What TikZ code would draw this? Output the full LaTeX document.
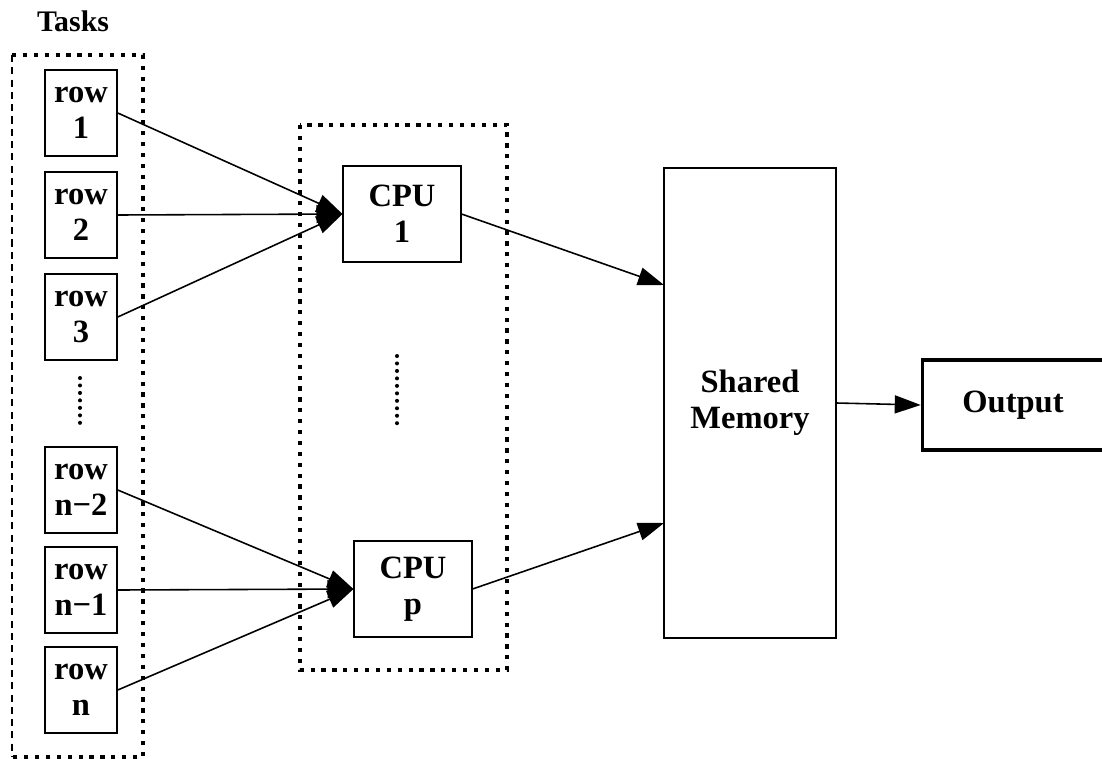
\documentclass[tikz,border=0pt]{standalone}
\usepackage{fontspec}
\setmainfont{Liberation Serif}
\usetikzlibrary{arrows.meta}
\newcommand{\rowW}{1.44cm}
\newcommand{\rowH}{1.72cm}
\newcommand{\cpuW}{2.35cm}
\newcommand{\cpuH}{1.92cm}

\begin{document}
\begin{tikzpicture}[x=0.02cm,y=-0.02cm,
        box/.style={draw,line width=0.9pt,align=center,inner sep=0pt,
            font=\fontsize{18.5}{20.5}\selectfont\bfseries},
        rowbox/.style={box,minimum width=\rowW,minimum height=\rowH},
        cpubox/.style={box,minimum width=\cpuW,minimum height=\cpuH},
        link/.style={line width=0.9pt,-{Triangle[length=0.52cm,width=0.36cm]}},
        group/.style={line width=2.3pt,dash pattern=on 2.4pt off 3.8pt},
        vdots/.style={line width=2.3pt,line cap=round,dash pattern=on 0pt off 4.25pt}]

        \useasboundingbox (0,0) rectangle (1102,758);

        % Task group
        \node[font=\fontsize{17}{20}\selectfont\bfseries] (tasks) at (73,21) {Tasks};
        \draw[group] (12,55) -- (143,55) -- (143,757) -- (12,757);
        \draw[line width=0.8pt,dash pattern=on 4pt off 3pt] (12,55) -- (12,757);

        \node[rowbox] (r1) at (81,113) {row\\1};
        \node[rowbox] (r2) at (81,215) {row\\2};
        \node[rowbox] (r3) at (81,317) {row\\3};
        \draw[vdots] (80,378) -- (80,424);
        \node[rowbox] (rn2) at (81,490) {row\\n−2};
        \node[rowbox] (rn1) at (81,590) {row\\n−1};
        \node[rowbox] (rn) at (81,690) {row\\n};

        % Processors
        \draw[group] (300,125) rectangle (507,670);
        \node[cpubox] (cpu1) at (402,214) {CPU\\1};
        \draw[vdots] (397,356) -- (397,425);
        \node[cpubox] (cpup) at (413,589) {CPU\\p};

        % Memory and output
        \node[box,minimum width=3.44cm,minimum height=9.4cm] (mem) at (750,403) {Shared\\Memory};
        \node[box,line width=2pt,minimum width=3.62cm,minimum height=1.8cm] (out) at (1013,405) {Output};
        \coordinate (in1) at (664,285);
        \coordinate (inp) at (664,523);

        % Connectors
        \draw[link] (r1.east) -- (cpu1.west);
        \draw[link] (r2.east) -- (cpu1.west);
        \draw[link] (r3.east) -- (cpu1.west);
        \draw[link] (rn2.east) -- (cpup.west);
        \draw[link] (rn1.east) -- (cpup.west);
        \draw[link] (rn.east) -- (cpup.west);
        \draw[link] (cpu1.east) -- (in1);
        \draw[link] (cpup.east) -- (inp);
        \draw[link] (mem.east) -- (out.west);
\end{tikzpicture}
\end{document}
